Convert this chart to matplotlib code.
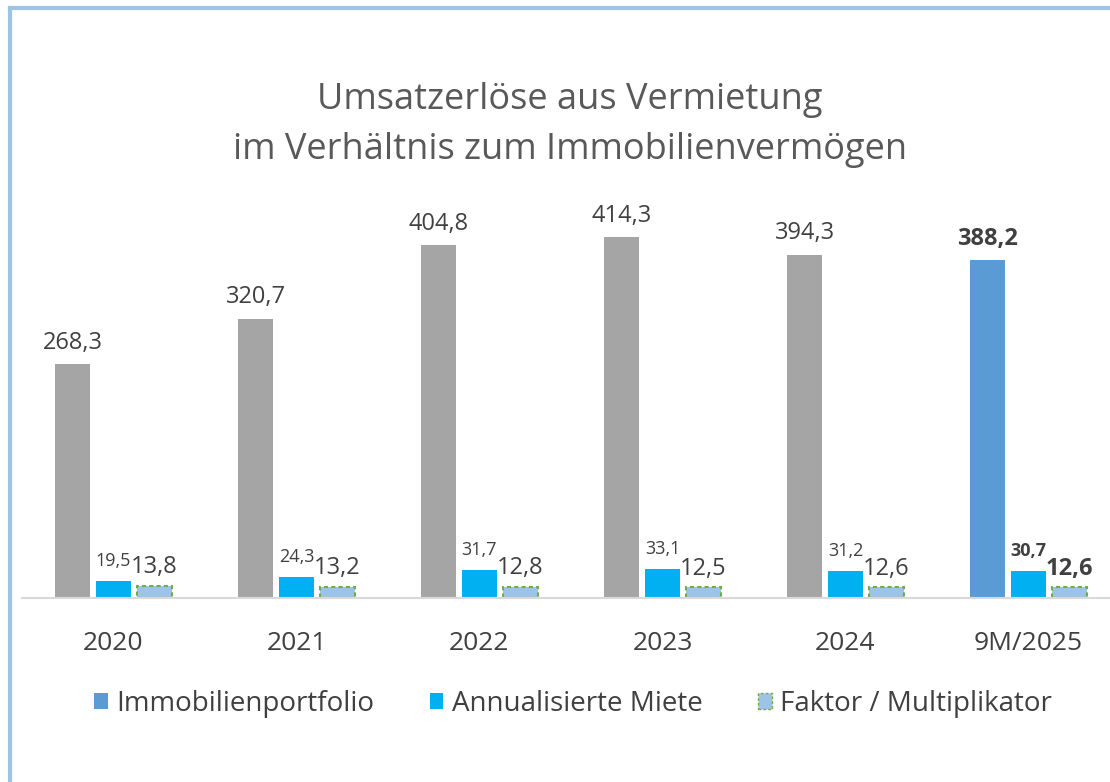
import matplotlib
matplotlib.use("Agg")
import matplotlib.pyplot as plt
from matplotlib.lines import Line2D
from matplotlib.patches import Patch
import numpy as np

plt.rcParams['font.family'] = ['Open Sans', 'DejaVu Sans']

years = ["2020", "2021", "2022", "2023", "2024", "9M/2025"]
portfolio = [268.3, 320.7, 404.8, 414.3, 394.3, 388.2]
miete = [19.5, 24.3, 31.7, 33.1, 31.2, 30.7]
faktor = [13.8, 13.2, 12.8, 12.5, 12.6, 12.6]

def de(v):
    return f"{v:.1f}".replace(".", ",")

fig = plt.figure(figsize=(11.1, 7.82), dpi=100)
# axes extends a bit past the right edge, like the cropped original
ax = fig.add_axes([22/1110, 1 - 598/782, 1098/1110, 392/782])

x = np.arange(len(years))
w = 0.186
off = 0.224
txt = "#404040"

pcol = ["#A5A5A5"] * 5 + ["#5B9BD5"]
ax.bar(x - off, portfolio, w, color=pcol)
ax.bar(x, miete, w, color="#00B0F0")
ax.bar(x + off, faktor, w, color="#9DC3E6", edgecolor="#70AD47",
       linestyle=(0, (2, 1.5)), linewidth=1.5)

for i in range(len(years)):
    bold = "bold" if i == len(years) - 1 else "normal"
    ax.annotate(de(portfolio[i]), (x[i] - off, portfolio[i]), xytext=(0, 11),
                textcoords="offset points", ha="center", va="baseline",
                fontsize=17, color=txt, fontweight=bold)
    ax.annotate(de(miete[i]), (x[i], miete[i]), xytext=(0, 11),
                textcoords="offset points", ha="center", va="baseline",
                fontsize=13, color=txt, fontweight=bold)
    ax.annotate(de(faktor[i]), (x[i] + off, faktor[i]), xytext=(0, 9),
                textcoords="offset points", ha="center", va="baseline",
                fontsize=17, color=txt, fontweight=bold)

ax.set_xlim(-0.5, len(years) - 0.5)
ax.set_ylim(0, 450)
ax.set_yticks([])
for s in ["top", "right", "left"]:
    ax.spines[s].set_visible(False)
ax.spines["bottom"].set_color("#D9D9D9")
ax.spines["bottom"].set_linewidth(1.5)
ax.set_xticks(x)
ax.set_xticklabels(years, fontsize=19, color=txt)
ax.tick_params(axis="x", length=0, pad=24)

fig.text(570/1110, 1 - 100/782, "Umsatzerlöse aus Vermietung",
         ha="center", va="center", fontsize=26, color="#595959")
fig.text(570/1110, 1 - 150/782, "im Verhältnis zum Immobilienvermögen",
         ha="center", va="center", fontsize=26, color="#595959")

handles = [Patch(facecolor="#5B9BD5"),
           Patch(facecolor="#00B0F0"),
           Patch(facecolor="#9DC3E6", edgecolor="#70AD47", linestyle=(0, (2, 1.5)))]
fig.legend(handles, ["Immobilienportfolio", "Annualisierte Miete", "Faktor / Multiplikator"],
           loc="center", bbox_to_anchor=(573/1110, 1 - 704/782), ncol=3, frameon=False,
           fontsize=20, labelcolor=txt, handlelength=0.5, handleheight=0.5,
           handletextpad=0.3, columnspacing=2.0)

# frame border (only left and top visible in the crop)
bc = "#9DC3E6"
fig.add_artist(Line2D([9.5/1110, 9.5/1110], [0, 1 - 8/782], color=bc, lw=3,
                      transform=fig.transFigure, solid_capstyle="projecting"))
fig.add_artist(Line2D([9.5/1110, 1], [1 - 8/782, 1 - 8/782], color=bc, lw=3,
                      transform=fig.transFigure, solid_capstyle="projecting"))

fig.savefig("out.png", dpi=100)
